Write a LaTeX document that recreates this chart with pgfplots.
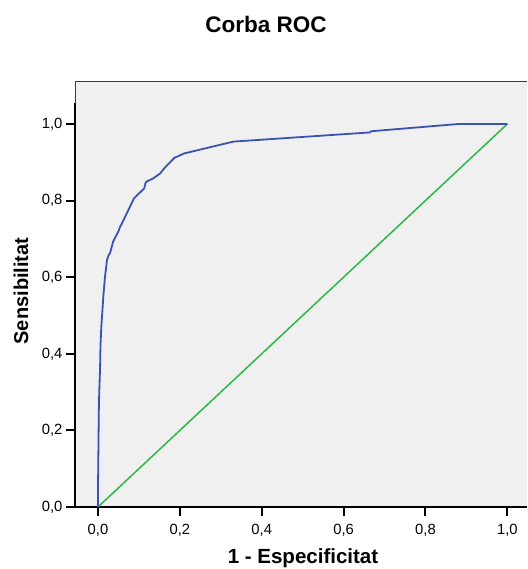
\documentclass[border=0pt]{standalone}
\usepackage{fontspec}
\setmainfont{Liberation Sans}
\usepackage{pgfplots}
\pgfplotsset{compat=1.18}
\definecolor{rocblue}{RGB}{58,82,176}
\definecolor{rocgreen}{RGB}{44,184,72}
\definecolor{bgray}{RGB}{240,240,240}
\definecolor{framegray}{RGB}{60,60,60}
\begin{document}
\begin{tikzpicture}[x=1pt,y=1pt]
\begin{axis}[
  at={(0,0)}, anchor=south west,
  scale only axis, width=452pt, height=404pt,
  xmin=-0.0562, xmax=1.0481, ymin=0, ymax=1.0548,
  set layers=standard,
  clip=false,
  axis x line*=bottom, axis y line*=left,
  axis line style={black, line width=2pt},
  every tick/.style={black, line width=2pt},
  tick align=outside, major tick length=9pt,
  xtick={0,0.2,0.4,0.6,0.8,1}, ytick={0,0.2,0.4,0.6,0.8,1},
  /pgf/number format/assume math mode=true,
  /pgf/number format/.cd, use comma, fixed, fixed zerofill, precision=1, /pgfplots/.cd,
  ticklabel style={font=\fontsize{14.8}{16}\selectfont},
  xticklabel style={yshift=-5pt},
  yticklabel style={xshift=0pt},
]
\begin{pgfonlayer}{axis background}
\fill[bgray] (axis cs:-0.0562,0) rectangle (axis cs:1.0481,1.1097);
\draw[framegray, line width=1pt] (axis cs:-0.0562,1.0548) -- (axis cs:-0.0562,1.1097) -- (axis cs:1.0481,1.1097);
\end{pgfonlayer}
\addplot[rocgreen, line width=1.5pt] coordinates {(0,0) (1,1)};
\addplot[rocblue, line width=1.8pt, line join=round] coordinates {
(0,0) (0,0.05) (0.001,0.15) (0.002,0.25) (0.003,0.3) (0.005,0.36) (0.006,0.42)
(0.008,0.47) (0.01,0.5) (0.013,0.55) (0.017,0.6) (0.022,0.645) (0.025,0.655)
(0.03,0.665) (0.037,0.693) (0.05,0.72) (0.054,0.732) (0.056,0.735) (0.088,0.806)
(0.113,0.832) (0.116,0.846) (0.118,0.849) (0.135,0.858) (0.152,0.871) (0.164,0.887)
(0.187,0.912) (0.196,0.916) (0.21,0.923) (0.331,0.954) (0.665,0.978) (0.667,0.981)
(0.881,1.0) (1,1)
};
\end{axis}
\node[font=\bfseries\fontsize{22.5}{25}\selectfont] at (191pt,482.5pt) {Corba ROC};
\node[font=\bfseries\fontsize{20}{22}\selectfont, rotate=90] at (-54pt,216pt) {Sensibilitat};
\node[font=\bfseries\fontsize{20.5}{22}\selectfont] at (228pt,-51pt) {1 - Especificitat};
\pgfresetboundingbox
\path (-75pt,-62pt) rectangle (452pt,507pt);
\end{tikzpicture}
\end{document}
